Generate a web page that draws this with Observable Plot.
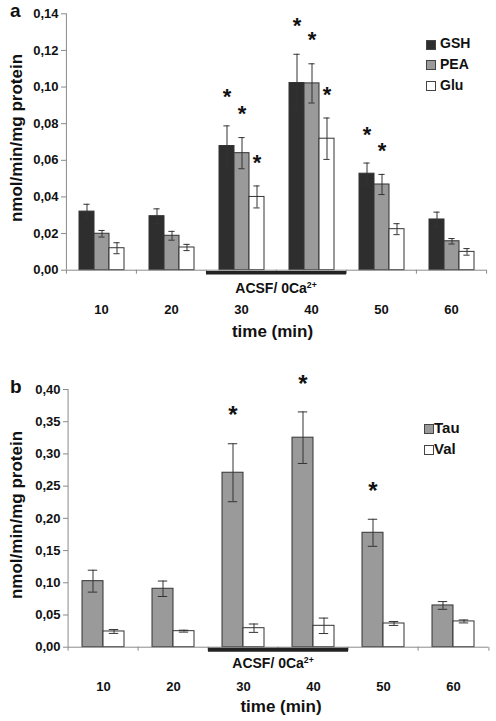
<!DOCTYPE html>
<html><head><meta charset="utf-8">
<script src="https://cdn.jsdelivr.net/npm/d3@7"></script>
<script src="https://cdn.jsdelivr.net/npm/@observablehq/plot@0.6"></script>
<style>
body{margin:0;background:#fff;}
#wrap{position:relative;width:496px;height:721px;font-family:'Liberation Sans',Arial,sans-serif;font-weight:bold;color:#111;overflow:hidden;}
#wrap svg{display:block;}
.ov{position:absolute;white-space:nowrap;line-height:1;z-index:2;}
.c{transform:translate(-50%,-50%);}
.rot{transform:translate(-50%,-50%) rotate(-90deg);}
.sw{position:absolute;width:8px;height:8px;border:1px solid #444;box-sizing:content-box;z-index:2;}
sup{font-size:0.62em;vertical-align:0.55em;line-height:0;}
</style></head><body><div id="wrap"></div>
<script>
// ---- data ----
const times = ["10", "20", "30", "40", "50", "60"];
const acsfPeriod = ["30", "40"];

// panel a
const seriesA = ["GSH", "PEA", "Glu"];
const gsh    = [0.0320, 0.0295, 0.0678, 0.1022, 0.0527, 0.0277];
const gshErr = [0.0040, 0.0040, 0.0110, 0.0157, 0.0058, 0.0040];
const pea    = [0.0199, 0.0188, 0.0639, 0.1020, 0.0468, 0.0158];
const peaErr = [0.0018, 0.0024, 0.0085, 0.0107, 0.0055, 0.0015];
const glu    = [0.0120, 0.0124, 0.0400, 0.0718, 0.0224, 0.0100];
const gluErr = [0.0030, 0.0017, 0.0060, 0.0113, 0.0030, 0.0018];
const starGsh = [false, false, true, true, true, false];
const starPea = [false, false, true, true, true, false];
const starGlu = [false, false, true, true, false, false];
const yTicksA = [0, 0.02, 0.04, 0.06, 0.08, 0.10, 0.12, 0.14];

// panel b
const seriesB = ["Tau", "Val"];
const tau    = [0.1025, 0.0907, 0.2708, 0.3252, 0.1776, 0.0648];
const tauErr = [0.0170, 0.0120, 0.0450, 0.0400, 0.0210, 0.0060];
const val    = [0.0244, 0.0249, 0.0295, 0.0332, 0.0368, 0.0400];
const valErr = [0.0030, 0.0015, 0.0065, 0.0120, 0.0030, 0.0023];
const starTau = [false, false, true, true, true, false];
const starVal = [false, false, false, false, false, false];
const yTicksB = [0, 0.05, 0.10, 0.15, 0.20, 0.25, 0.30, 0.35, 0.40];

const yLabel = "nmol/min/mg protein";
const xLabel = "time (min)";
const acsfLabel = "ACSF/ 0Ca<sup>2+</sup>";

// ---- build tables ----
function table(series, values, errs, stars) {
  const rows = [];
  series.forEach((s, k) => times.forEach((t, i) =>
    rows.push({time: t, series: s, value: values[k][i], err: errs[k][i], star: stars[k][i]})));
  return rows;
}
const dataA = table(seriesA, [gsh, pea, glu], [gshErr, peaErr, gluErr], [starGsh, starPea, starGlu]);
const dataB = table(seriesB, [tau, val], [tauErr, valErr], [starTau, starVal]);

const W = 496;
const gray = "#8a8a8a";
const ink = "#333";
const fmt = d => d.toFixed(2).replace(".", ",");

function panel(o) {
  const marginLeft = 65;
  const step = (W - marginLeft - o.marginRight) / times.length;
  const starMarks = o.series.map(s => Plot.text(o.data.filter(d => d.series === s && d.star), {
    fx: "time", x: "series", y: d => d.value + d.err, text: () => "*",
    dy: o.starDy[s], fontSize: o.starSize, fontWeight: "bold", fill: "#111"
  }));
  return Plot.plot({
    width: W, height: o.height,
    marginTop: o.marginTop, marginBottom: o.marginBottom, marginLeft, marginRight: o.marginRight,
    style: {fontFamily: "'Liberation Sans', Arial, sans-serif", fontWeight: "bold", fontSize: "13px", color: "#111", background: "transparent"},
    fx: {domain: times, padding: 0, label: null},
    x: {domain: o.series, paddingInner: 0, paddingOuter: o.xPadOuter, axis: null},
    y: {domain: [0, o.yMax]},
    color: {domain: o.series, range: o.fills},
    marks: [
      Plot.barY(o.data, {fx: "time", x: "series", y: "value", fill: "series", stroke: ink, strokeWidth: 1}),
      Plot.ruleX(o.data, {fx: "time", x: "series", y1: d => d.value - d.err, y2: d => d.value + d.err, stroke: ink}),
      Plot.tickY(o.data, {fx: "time", x: "series", y: d => d.value + d.err, stroke: ink, insetLeft: o.capInset, insetRight: o.capInset}),
      Plot.tickY(o.data, {fx: "time", x: "series", y: d => d.value - d.err, stroke: ink, insetLeft: o.capInset, insetRight: o.capInset}),
      Plot.ruleY([0], {stroke: gray}),
      Plot.ruleX(times, {fx: d => d, x: null, y1: 0, y2: 0, dx: -step / 2, insetBottom: -4, stroke: gray}),
      Plot.ruleX([times[times.length - 1]], {fx: d => d, x: null, y1: 0, y2: 0, dx: step / 2, insetBottom: -4, stroke: gray}),
      Plot.ruleX([times[0]], {fx: d => d, x: null, y1: 0, y2: o.yMax, dx: -step / 2, stroke: gray}),
      Plot.ruleY(acsfPeriod, {fx: d => d, y: 0, dy: 2.5, strokeWidth: o.acsfWidth, stroke: "#222"}),
      ...starMarks,
      Plot.axisY({ticks: o.yTicks, tickFormat: fmt, tickSize: 5, tickPadding: 3, stroke: gray, fill: "#111", label: null, fontWeight: "bold"}),
      Plot.axisFx({anchor: "bottom", tickSize: 0, tickPadding: 35, label: null, fill: "#111", fontWeight: "bold"})
    ]
  });
}

const wrap = document.getElementById("wrap");
wrap.appendChild(panel({
  data: dataA, series: seriesA, fills: ["#2e2e2e", "#9a9a9a", "#ffffff"],
  height: 360, marginTop: 13.3, marginBottom: 90.3, marginRight: 10,
  yMax: 0.14, yTicks: yTicksA, xPadOuter: 0.765, capInset: 4.4,
  starDy: {GSH: -28.5, PEA: -23.5, Glu: -23.5}, starSize: 22, acsfWidth: 3.5
}));
wrap.appendChild(panel({
  data: dataB, series: seriesB, fills: ["#9a9a9a", "#ffffff"],
  height: 361, marginTop: 29, marginBottom: 74.3, marginRight: 6,
  yMax: 0.40, yTicks: yTicksB, xPadOuter: 0.66, capInset: 5.8,
  starDy: {Tau: -28, Val: -28}, starSize: 24, acsfWidth: 4
}));

// ---- text overlays ----
function ov(html, left, top, cls, size) {
  const d = document.createElement("div");
  d.className = "ov " + (cls || "");
  d.style.left = left + "px";
  d.style.top = top + "px";
  d.style.fontSize = size + "px";
  d.innerHTML = html;
  wrap.appendChild(d);
  return d;
}
function swatch(left, cy, fill) {
  const s = document.createElement("div");
  s.className = "sw";
  s.style.left = left + "px";
  s.style.top = (cy - 4.5) + "px";
  s.style.background = fill;
  wrap.appendChild(s);
}
// panel letters
ov("a", 10, 0.6, "", 19);
ov("b", 10, 376.6, "", 19);
// y labels
ov(yLabel, 15.8, 138, "rot", 17);
ov(yLabel, 15.8, 515, "rot", 17);
// ACSF labels
ov(acsfLabel, 276, 288.3, "c", 14);
ov(acsfLabel, 273, 663.3, "c", 14);
// x labels
ov(xLabel, 272.5, 330.7, "c", 17);
ov(xLabel, 281, 706.3, "c", 17);
// legends
const legA = [["GSH", "#2e2e2e", 44], ["PEA", "#9a9a9a", 64.7], ["Glu", "#ffffff", 85.3]];
legA.forEach(([t, f, cy]) => { swatch(426, cy, f); ov(t, 440, cy - 7.6, "", 14); });
const legB = [["Tau", "#9a9a9a", 428.3], ["Val", "#ffffff", 449.3]];
legB.forEach(([t, f, cy]) => { swatch(423.5, cy, f); ov(t, 434, cy - 8.1, "", 15); });
</script>
</body></html>
